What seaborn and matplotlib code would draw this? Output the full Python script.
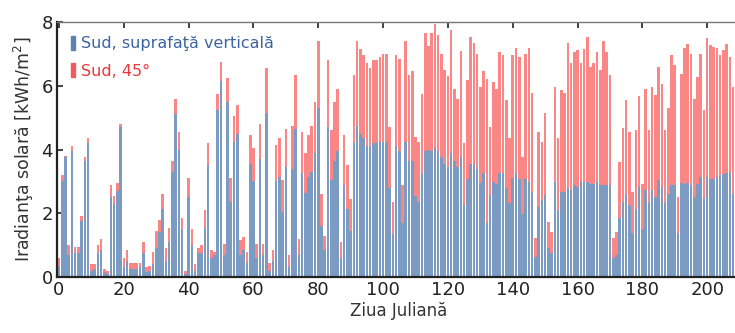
import numpy as np
import pandas as pd
import matplotlib
matplotlib.use("Agg")
import matplotlib.pyplot as plt
import seaborn as sns
from matplotlib.patches import Rectangle

# Iradianta zilnica, zilele 0..210
zile = list(range(211))

sud_vertical = [
    0.35, 3.0, 3.75, 0.7, 3.95, 0.75, 0.75, 1.75, 3.65, 4.2,
    0.2, 0.25, 0.75, 0.85, 0.15, 0.1, 2.5, 2.3, 2.7, 4.7,
    0.3, 0.5, 0.25, 0.25, 0.25, 0.3, 0.75, 0.15, 0.2, 0.4,
    0.9, 1.4, 2.15, 0.5, 1.1, 3.3, 5.1, 4.0, 1.5, 0.1,
    2.5, 1.0, 0.2, 0.75, 0.75, 1.55, 3.5, 0.6, 0.7, 5.25,
    6.15, 0.7, 5.5, 2.35, 4.25, 4.5, 0.7, 0.85, 0.45, 3.55,
    3.0, 0.6, 3.7, 0.7, 5.15, 0.2, 0.5, 3.0, 3.15, 2.05,
    3.45, 0.3, 3.4, 4.65, 0.7, 3.25, 2.65, 3.15, 3.3, 3.9,
    5.3, 1.6, 0.85,
    4.7, 3.05, 3.65, 3.95, 0.6, 2.9, 2.15, 1.45, 4.2, 4.75,
    4.5, 4.35, 4.1, 4.1, 4.2, 4.2, 4.25, 4.25, 4.25, 2.8,
    1.35, 4.1, 3.95, 1.7, 4.25, 3.65, 3.65, 2.55, 2.35, 3.25,
    3.95, 4.0, 3.95, 4.05, 3.95, 3.75, 3.55, 3.45, 3.9, 3.65, 3.45, 3.75,
    2.26, 3.06, 3.55, 3.55, 3.4, 2.95, 3.25, 1.7, 2.57, 2.99,
    2.93, 3.27, 3.27, 2.78, 2.31, 3.12, 3.25, 3.09, 1.99, 3.06,
    2.99, 2.67, 0.63, 2.2, 2.41, 2.57, 0.9, 0.74, 2.99, 2.1,
    2.67, 2.67, 2.78, 2.73, 2.88, 2.83, 2.99, 2.99, 2.99, 2.93,
    2.93, 2.99, 2.88,
    2.88, 2.88, 2.88, 0.61, 0.68, 1.84, 2.36, 2.57, 2.26, 1.37,
    2.15, 2.83, 1.5, 2.73, 2.33, 2.73, 2.52, 3.04, 2.83, 2.31,
    2.62, 2.88, 2.88, 1.37, 2.95, 2.93, 2.95, 2.88, 2.52, 2.93,
    3.14, 2.47, 3.14, 3.06, 3.09, 3.14, 3.2, 3.23, 3.27, 3.3,
    2.62, 3.35, 3.35,
]

sud_45 = [
    0.6, 3.2, 3.8, 1.0, 4.1, 0.95, 0.95, 1.9, 3.75, 4.35,
    0.4, 0.4, 1.0, 1.2, 0.25, 0.2, 2.9, 2.55, 2.95, 4.8,
    0.6, 0.85, 0.45, 0.45, 0.45, 0.45, 1.1, 0.3, 0.35, 0.8,
    1.45, 1.8, 2.6, 0.9, 1.55, 3.65, 5.6, 4.55, 1.85, 0.2,
    3.1, 1.5, 0.4, 0.9, 1.0, 2.1, 4.2, 0.85, 0.8, 5.75,
    6.75, 1.05, 6.25, 3.1, 5.05, 5.4, 1.15, 1.25, 0.8, 4.45,
    4.05, 1.05, 4.8, 1.05, 6.55, 0.45, 0.85, 4.15, 4.35, 3.05,
    4.65, 0.7, 4.75, 6.35, 1.2, 4.55, 3.9, 4.45, 4.75, 5.5,
    7.4, 2.6, 1.3,
    6.8, 4.6, 5.5, 5.9, 1.1, 4.45, 3.5, 2.45, 6.35, 7.4,
    7.15, 6.95, 6.7, 6.55, 6.8, 6.8, 6.9, 7.0, 7.0, 4.7,
    2.35, 6.95, 6.85, 2.9, 7.4, 6.35, 6.45, 4.4, 4.25, 5.75,
    7.65, 7.25, 7.65, 7.95, 7.6, 7.0, 6.5, 6.3, 7.75, 5.9, 5.6, 7.1,
    4.19, 6.17, 7.53, 7.35, 7.0, 5.96, 6.47, 6.2, 4.71, 6.12,
    5.91, 7.06, 6.96, 5.55, 4.35, 6.96, 7.17, 6.91, 3.77, 7.01,
    7.17, 5.76, 1.21, 4.56, 4.24, 5.13, 1.73, 1.42, 5.96, 4.35,
    5.86, 5.78, 7.35, 6.7, 7.06, 7.12, 6.7, 7.14, 7.53, 6.59,
    6.7, 7.06, 6.49,
    7.39, 7.06, 6.33, 1.21, 1.42, 3.6, 4.66, 5.55, 4.56, 2.67,
    4.6, 5.67, 2.93, 5.91, 4.6, 5.96, 5.7, 6.59, 6.07, 4.6,
    5.29, 6.96, 6.65, 2.5, 6.38, 7.17, 7.31, 7.01, 5.6, 6.28,
    7.01, 5.23, 7.51, 7.28, 7.22, 7.17, 6.96, 7.12, 7.31, 6.91,
    5.96, 7.06, 7.06,
]

x_ticks = [0, 20, 40, 60, 80, 100, 120, 140, 160, 180, 200]
y_ticks = [0, 2, 4, 6, 8]

df = pd.DataFrame({"zi": zile, "vertical": sud_vertical, "s45": sud_45})

albastru = "#7b9bc3"
rosu = "#fb8686"

sns.set_style("white")
plt.rcParams["font.family"] = ["DejaVu Sans"]

fig = plt.figure(figsize=(7.35, 3.33), dpi=100)
ax = fig.add_axes([0.0776, 0.168, 0.93, 0.766])

sns.barplot(data=df, x="zi", y="s45", color=rosu, saturation=1,
            native_scale=True, width=0.8, linewidth=0, ax=ax, errorbar=None)
sns.barplot(data=df, x="zi", y="vertical", color=albastru, saturation=1,
            native_scale=True, width=0.8, linewidth=0, ax=ax, errorbar=None)

ax.set_xlim(-0.6, 210.3)
ax.set_ylim(0, 8)
ax.set_xticks(x_ticks)
ax.set_xticklabels([str(t) for t in x_ticks])
ax.set_yticks(y_ticks)
ax.set_yticklabels([str(t) for t in y_ticks])
ax.tick_params(axis="both", direction="in", length=4, width=1.2,
               labelsize=13, colors="#222222", pad=3,
               top=True, bottom=True, left=True, right=False)

for s in ["left", "bottom"]:
    ax.spines[s].set_color("#222222")
    ax.spines[s].set_linewidth(1.6)
ax.spines["top"].set_color("#777777")
ax.spines["top"].set_linewidth(1.0)
ax.spines["right"].set_visible(False)

ax.set_xlabel("Ziua Juliană", fontsize=12, color="#333333", labelpad=2)
ax.set_ylabel("Iradianţa solară [kWh/m$^2$]", fontsize=12.5, color="#333333", labelpad=4)

handles = [Rectangle((0, 0), 1, 1, color="#5f82b3"), Rectangle((0, 0), 1, 1, color="#f05a5a")]
leg = ax.legend(handles, ["Sud, suprafaţă verticală", "Sud, 45°"], loc="upper left",
                frameon=False, fontsize=11.5, handlelength=0.25, handleheight=0.9,
                handletextpad=0.35, borderaxespad=0.5, labelspacing=0.75,
                labelcolor=["#3c64a0", "#e8383c"])

fig.savefig("out.png", dpi=100)
